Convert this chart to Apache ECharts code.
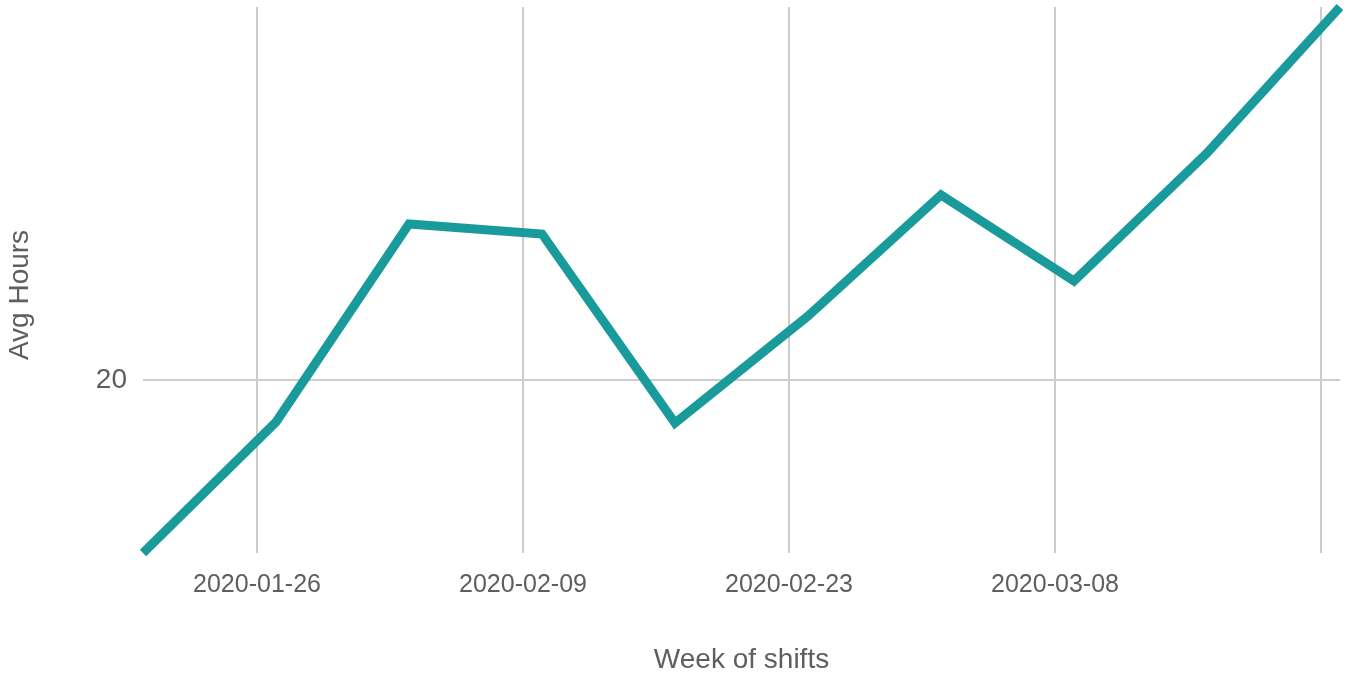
<!DOCTYPE html>
<html>
<head>
<meta charset="utf-8">
<script src="https://cdn.jsdelivr.net/npm/echarts@6/dist/echarts.min.js"></script>
<style>
  html, body { margin: 0; padding: 0; background: #fff; }
  #chart { width: 1345px; height: 673px; }
</style>
</head>
<body>
<div id="chart"></div>
<script>
// weekly data (week starting Monday)
var weeks = ['2020-01-20', '2020-01-27', '2020-02-03', '2020-02-10', '2020-02-17',
  '2020-02-24', '2020-03-02', '2020-03-09', '2020-03-16', '2020-03-23']
var avgHours = [16.54, 19.16, 23.12, 22.92, 19.14, 21.28, 23.70, 21.98, 24.54, 27.46]

// tick positions
var xBreaks = ['2020-01-26', '2020-02-09', '2020-02-23', '2020-03-08', '2020-03-22']
var xLabels = ['2020-01-26', '2020-02-09', '2020-02-23', '2020-03-08']
var yBreaks = [20]

var textColor = '#5e5e5e'
var gridColor = '#cccccc'
var font = 'Liberation Sans, Arial, sans-serif'

// dates -> timestamps so a plain value axis can take custom ticks
function toTime (d) {
  return echarts.number.parseDate(d).getTime()
}

var chart = echarts.init(document.getElementById('chart'))

var points = weeks.map(function (w, i) {
  return [toTime(w), avgHours[i]]
})

chart.setOption({
  animation: false,
  grid: {
    left: 143,
    right: 5,
    top: 7,
    bottom: 120,
    containLabel: false,
    outerBoundsMode: 'none'
  },
  xAxis: {
    type: 'value',
    min: toTime(weeks[0]),
    max: toTime(weeks[weeks.length - 1]),
    name: 'Week of shifts',
    nameLocation: 'middle',
    nameGap: 93,
    nameTextStyle: {
      color: textColor,
      fontSize: 28,
      fontFamily: font
    },
    axisLine: { show: false },
    axisTick: { show: false, customValues: xBreaks.map(toTime) },
    splitLine: {
      show: true,
      lineStyle: { color: gridColor, width: 2 }
    },
    axisLabel: {
      customValues: xLabels.map(toTime),
      color: textColor,
      fontSize: 25,
      fontFamily: font,
      margin: 20,
      formatter: function (v) {
        return echarts.time.format(v, '{yyyy}-{MM}-{dd}', false)
      }
    }
  },
  yAxis: {
    type: 'value',
    min: 'dataMin',
    max: 'dataMax',
    axisLine: { show: false },
    axisTick: { show: false, customValues: yBreaks },
    splitLine: {
      show: true,
      lineStyle: { color: gridColor, width: 2 }
    },
    axisLabel: {
      customValues: yBreaks,
      color: textColor,
      fontSize: 28,
      fontFamily: font,
      margin: 16
    }
  },
  graphic: [{
    type: 'text',
    x: 20,
    y: 295,
    rotation: Math.PI / 2,
    style: {
      text: 'Avg Hours',
      fill: textColor,
      fontSize: 28,
      fontFamily: font,
      align: 'center',
      verticalAlign: 'middle'
    }
  }],
  series: [{
    name: 'Avg Hours',
    type: 'line',
    data: points,
    showSymbol: false,
    symbol: 'none',
    lineStyle: {
      color: '#1a9b9b',
      width: 9,
      join: 'miter'
    }
  }]
})
</script>
</body>
</html>
